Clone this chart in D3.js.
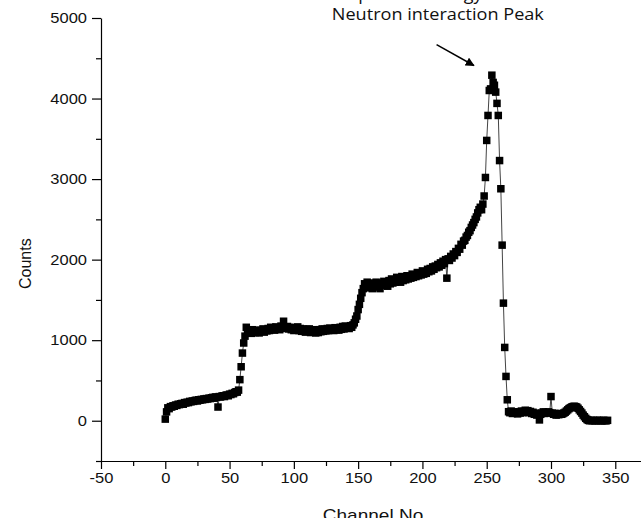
<!DOCTYPE html>
<html>
<head>
<meta charset="utf-8">
<script src="https://cdn.jsdelivr.net/npm/d3@7"></script>
<style>
  body { margin: 0; background: #fff; }
</style>
</head>
<body>
<script>
// Counts per channel (channel 0 .. 344)
const firstChannel = 0;
const counts = [
  20,
  110, 160, 150, 175, 170, 185, 180, 195, 190, 205,
  200, 210, 215, 205, 225, 220, 230, 225, 240, 235,
  245, 240, 250, 255, 245, 260, 255, 265, 260, 270,
  265, 275, 270, 280, 275, 285, 290, 280, 295, 290,
  170, 300, 295, 305, 310, 300, 315, 320, 310, 330,
  325, 340, 335, 350, 360, 355, 380, 510, 670, 840,
  965, 1050, 1160, 1090, 1110, 1120, 1085, 1130, 1100, 1095,
  1120, 1105, 1090, 1125, 1110, 1140, 1100, 1130, 1115, 1145,
  1120, 1160, 1130, 1150, 1125, 1165, 1140, 1155, 1130, 1175,
  1150, 1235, 1160, 1145, 1170, 1140, 1160, 1130, 1155, 1120,
  1150, 1135, 1165, 1120, 1145, 1110, 1140, 1125, 1100, 1135,
  1110, 1140, 1095, 1125, 1100, 1130, 1090, 1115, 1095, 1130,
  1105, 1140, 1110, 1135, 1115, 1145, 1120, 1150, 1125, 1140,
  1120, 1155, 1130, 1145, 1125, 1160, 1135, 1170, 1140, 1175,
  1150, 1165, 1145, 1180, 1160, 1190, 1215, 1260, 1300, 1380,
  1445, 1520, 1590, 1640, 1700, 1650, 1720, 1680, 1660, 1710,
  1640, 1700, 1660, 1720, 1670, 1700, 1640, 1710, 1680, 1730,
  1690, 1720, 1670, 1740, 1700, 1760, 1710, 1750, 1720, 1780,
  1730, 1770, 1720, 1790, 1740, 1780, 1750, 1800, 1760, 1790,
  1770, 1820, 1780, 1810, 1790, 1840, 1800, 1830, 1810, 1860,
  1820, 1850, 1830, 1880, 1850, 1890, 1860, 1910, 1880, 1920,
  1900, 1940, 1910, 1960, 1930, 1980, 1950, 2000, 1770, 2010,
  1990, 2040, 2020, 2070, 2050, 2100, 2090, 2140, 2130, 2190,
  2180, 2230, 2240, 2280, 2300, 2340, 2360, 2400, 2430, 2460,
  2500, 2530, 2580, 2620, 2650, 2620, 2690, 2790, 3020, 3480,
  3790, 4100, 4120, 4290, 4200, 4165, 4080, 3940, 3790, 3230,
  2880, 2180, 1460, 910, 550, 260, 112, 100, 120, 90,
  110, 95, 105, 85, 110, 95, 120, 100, 115, 130,
  110, 125, 100, 115, 90, 105, 80, 95, 70, 85,
  10, 80, 95, 110, 90, 105, 95, 110, 100, 300,
  95, 80, 90, 70, 85, 75, 90, 80, 85, 95,
  105, 120, 135, 150, 160, 170, 175, 180, 175, 170,
  155, 135, 115, 95, 70, 50, 30, 15, 5, 0,
  5, 0, 5, 0, 0, 5, 0, 5, 0, 0, 5, 0, 0, 5
];

// Axis ticks
const xTicks = [-50, 0, 50, 100, 150, 200, 250, 300, 350];
const xMinorTicks = [-25, 25, 75, 125, 175, 225, 275, 325];
const yTicks = [0, 1000, 2000, 3000, 4000, 5000];
const yMinorTicks = [-500, 500, 1500, 2500, 3500, 4500];

// Labels
const xTitle = "Channel No";
const yTitle = "Counts";
const topTitle = "Deposited Energy";
const peakLabel = "Neutron interaction Peak";
const peakLabelAt = [212, 4975];
const arrowFrom = [211, 4670];
const arrowTo = [240, 4410];

const width = 641, height = 518;
const svg = d3.select("body").append("svg")
    .attr("width", width)
    .attr("height", height)
    .style("font-family", "'Liberation Sans', Arial, sans-serif");

const x = d3.scaleLinear().domain([-50, 370]).range([101, 641]);
const y = d3.scaleLinear().domain([-500, 5000]).range([461, 18]);

// horizontally stretched lettering, like the source image
function stretch(sel, k) {
    sel.each(function () {
        const w = this.getComputedTextLength();
        d3.select(this).attr("textLength", w * k).attr("lengthAdjust", "spacingAndGlyphs");
    });
}

const plain = d => String(d).replace("\u2212", "-");

// Axes
svg.append("g")
    .attr("transform", `translate(0,${y(-500)})`)
    .call(d3.axisBottom(x).tickValues(xTicks).tickFormat(plain)
        .tickSize(8).tickSizeOuter(0).tickPadding(3));
svg.append("g")
    .attr("transform", `translate(0,${y(-500)})`)
    .call(d3.axisBottom(x).tickValues(xMinorTicks).tickSize(5).tickFormat(""))
    .select(".domain").remove();

svg.append("g")
    .attr("transform", `translate(${x(-50)},0)`)
    .call(d3.axisLeft(y).tickValues(yTicks).tickFormat(plain)
        .tickSize(9).tickSizeOuter(0).tickPadding(5));
svg.append("g")
    .attr("transform", `translate(${x(-50)},0)`)
    .call(d3.axisLeft(y).tickValues(yMinorTicks).tickSize(5).tickFormat(""))
    .select(".domain").remove();

svg.selectAll(".domain, .tick line").attr("stroke", "#000").attr("stroke-width", 1.2);
svg.selectAll(".tick text").attr("font-size", 15).attr("fill", "#111")
    .attr("font-family", "'Liberation Sans', Arial, sans-serif");
stretch(svg.selectAll(".tick text"), 1.1);

// Axis titles
const xt = svg.append("text")
    .attr("x", 373).attr("y", 521)
    .attr("text-anchor", "middle")
    .attr("font-size", 17).attr("fill", "#111")
    .text(xTitle);
stretch(xt, 1.12);

svg.append("text")
    .attr("transform", `translate(31,${y(2000) + 4}) rotate(-90)`)
    .attr("text-anchor", "middle")
    .attr("font-size", 16).attr("fill", "#111")
    .text(yTitle);

// Spectrum: thin connecting line with square markers
const points = counts.map((c, i) => ({ ch: firstChannel + i, c }));

svg.append("path")
    .datum(points)
    .attr("fill", "none")
    .attr("stroke", "#444")
    .attr("stroke-width", 1)
    .attr("d", d3.line().x(d => x(d.ch)).y(d => y(d.c)));

const s = 7.5;
svg.append("g").selectAll("rect")
    .data(points)
    .join("rect")
    .attr("x", d => x(d.ch) - s / 2)
    .attr("y", d => y(d.c) - s / 2)
    .attr("width", s)
    .attr("height", s)
    .attr("fill", "#000");

// Annotation
svg.append("defs").append("marker")
    .attr("id", "head")
    .attr("viewBox", "0 0 10 10")
    .attr("refX", 9).attr("refY", 5)
    .attr("markerWidth", 9).attr("markerHeight", 9)
    .attr("markerUnits", "userSpaceOnUse")
    .attr("orient", "auto")
    .append("path")
    .attr("d", "M0,0 L10,5 L0,10 Z")
    .attr("fill", "#000");

svg.append("line")
    .attr("x1", x(arrowFrom[0])).attr("y1", y(arrowFrom[1]))
    .attr("x2", x(arrowTo[0])).attr("y2", y(arrowTo[1]))
    .attr("stroke", "#000").attr("stroke-width", 1.5)
    .attr("marker-end", "url(#head)");

svg.append("text")
    .attr("x", x(peakLabelAt[0])).attr("y", y(peakLabelAt[1]))
    .attr("text-anchor", "middle")
    .attr("font-family", "'Open Sans', sans-serif")
    .attr("font-size", 16).attr("fill", "#111")
    .attr("textLength", 212).attr("lengthAdjust", "spacingAndGlyphs")
    .text(peakLabel);

// Cropped title line at the very top
svg.append("text")
    .attr("x", 335).attr("y", 0)
    .attr("font-family", "'Open Sans', sans-serif")
    .attr("font-size", 18).attr("fill", "#111")
    .text(topTitle);
</script>
</body>
</html>
